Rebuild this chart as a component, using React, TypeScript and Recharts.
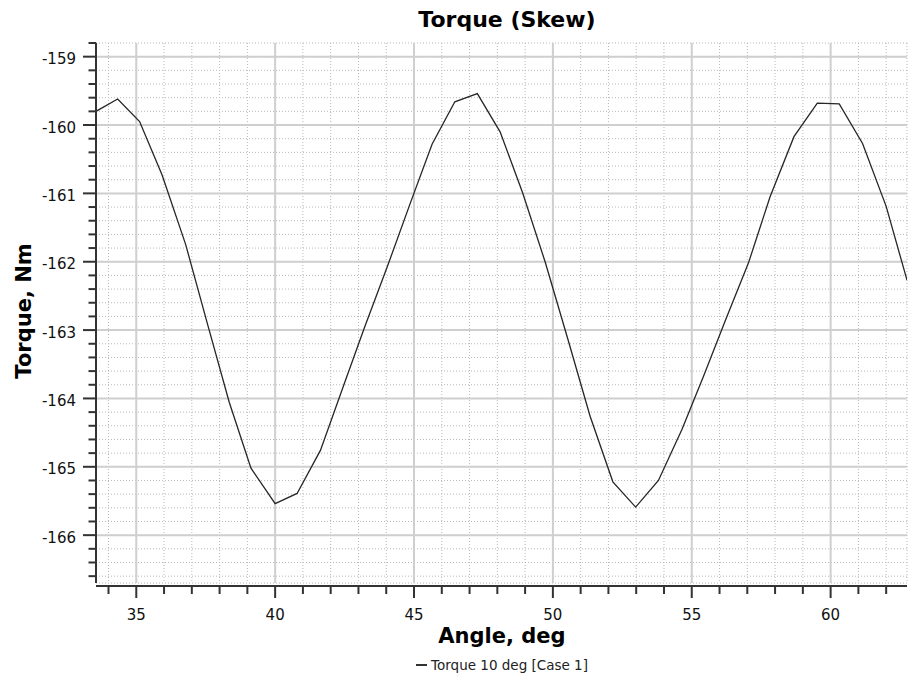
import React from "react";
import {
  LineChart,
  Line,
  XAxis,
  YAxis,
  CartesianGrid,
  ReferenceLine,
} from "recharts";

// values
const angle = [
  33.55, 34.33, 35.12, 35.93, 36.78, 37.57, 38.35, 39.13, 40.0, 40.79, 41.63,
  42.43, 43.21, 44.05, 44.86, 45.65, 46.47, 47.28, 48.1, 48.91, 49.72, 50.53,
  51.34, 52.16, 52.98, 53.8, 54.65, 55.42, 56.22, 57.04, 57.82, 58.68, 59.52,
  60.31, 61.15, 62.0, 62.75,
];
const torque = [
  -159.8, -159.62, -159.95, -160.73, -161.75, -162.92, -164.06, -165.02,
  -165.54, -165.39, -164.76, -163.85, -162.97, -162.06, -161.15, -160.28,
  -159.66, -159.54, -160.1, -160.99, -162.0, -163.12, -164.26, -165.22,
  -165.59, -165.2, -164.45, -163.68, -162.85, -162.02, -161.05, -160.17,
  -159.68, -159.69, -160.27, -161.19, -162.27,
];

const xMajor = [35, 40, 45, 50, 55, 60];
const xMinor = [
  34, 35, 36, 37, 38, 39, 40, 41, 42, 43, 44, 45, 46, 47, 48, 49, 50, 51, 52,
  53, 54, 55, 56, 57, 58, 59, 60, 61, 62,
];
const yMajor = [-166, -165, -164, -163, -162, -161, -160, -159];
const yMinor = [
  -166.6, -166.4, -166.2, -166, -165.8, -165.6, -165.4, -165.2, -165, -164.8,
  -164.6, -164.4, -164.2, -164, -163.8, -163.6, -163.4, -163.2, -163, -162.8,
  -162.6, -162.4, -162.2, -162, -161.8, -161.6, -161.4, -161.2, -161, -160.8,
  -160.6, -160.4, -160.2, -160, -159.8, -159.6, -159.4, -159.2, -159, -158.8,
];

const data = angle.map((a, i) => ({ angle: a, torque: torque[i] }));

const font = "'DejaVu Sans', Verdana, sans-serif";
const axisColor = "#333";

const isMajor = (list: number[], v: number) =>
  list.some((m) => Math.abs(m - v) < 1e-6);

function XTick(props: any) {
  const { x, y, payload } = props;
  const major = isMajor(xMajor, payload.value);
  return (
    <g>
      <line
        x1={x}
        x2={x}
        y1={y + 3}
        y2={y + (major ? 15 : 11)}
        stroke={axisColor}
        strokeWidth={2}
      />
      {major && (
        <text
          x={x}
          y={y + 37}
          textAnchor="middle"
          fontSize={15}
          fontFamily={font}
          fill="#111"
        >
          {payload.value}
        </text>
      )}
    </g>
  );
}

function YTick(props: any) {
  const { x, y, payload } = props;
  const major = isMajor(yMajor, payload.value);
  return (
    <g>
      <line
        x1={x - (major ? 13 : 7.5)}
        x2={x}
        y1={y}
        y2={y}
        stroke={axisColor}
        strokeWidth={2}
      />
      {major && (
        <text
          x={x - 20}
          y={y + 7.5}
          textAnchor="end"
          fontSize={15}
          fontFamily={font}
          fill="#111"
        >
          {Math.round(payload.value)}
        </text>
      )}
    </g>
  );
}

export default function App() {
  return (
    <div
      style={{
        position: "absolute",
        left: 0,
        top: 0,
        width: 908,
        height: 679,
        background: "#fff",
        fontFamily: font,
      }}
    >
      <div
        style={{
          position: "absolute",
          top: 7,
          left: 307,
          width: 400,
          textAlign: "center",
          fontSize: 22,
          lineHeight: "26px",
          fontWeight: "bold",
          color: "#000",
        }}
      >
        Torque (Skew)
      </div>

      <LineChart
        width={908}
        height={679}
        data={data}
        margin={{ top: 43, right: 1, bottom: 0, left: 0 }}
      >
        <CartesianGrid
          stroke="#b8b8b8"
          strokeWidth={1}
          strokeDasharray="1 2"
        />
        {xMajor.map((v) => (
          <ReferenceLine key={"x" + v} x={v} stroke="#cfcfcf" strokeWidth={2} />
        ))}
        {yMajor.map((v) => (
          <ReferenceLine key={"y" + v} y={v} stroke="#cfcfcf" strokeWidth={2} />
        ))}
        <XAxis
          dataKey="angle"
          type="number"
          domain={[33.55, 62.75]}
          allowDataOverflow
          ticks={xMinor}
          interval={0}
          height={96}
          tickSize={0}
          tickMargin={0}
          tickLine={false}
          tick={<XTick />}
          axisLine={{
            stroke: axisColor,
            strokeWidth: 2,
            transform: "translate(0,3)",
          }}
        />
        <YAxis
          type="number"
          domain={[-166.7, -158.8]}
          allowDataOverflow
          ticks={yMinor}
          interval={0}
          width={96}
          tickSize={0}
          tickMargin={0}
          tickLine={false}
          tick={<YTick />}
          axisLine={{ stroke: axisColor, strokeWidth: 2 }}
        />
        <Line
          type="linear"
          dataKey="torque"
          stroke="#262626"
          strokeWidth={1.3}
          dot={false}
          activeDot={false}
          isAnimationActive={false}
        />
      </LineChart>

      <div
        style={{
          position: "absolute",
          left: 24 - 100,
          top: 311 - 13,
          width: 200,
          textAlign: "center",
          fontSize: 21,
          lineHeight: "26px",
          fontWeight: "bold",
          color: "#000",
          transform: "rotate(-90deg)",
        }}
      >
        Torque, Nm
      </div>

      <div
        style={{
          position: "absolute",
          left: 352,
          top: 626,
          width: 300,
          textAlign: "center",
          fontSize: 21,
          lineHeight: "21px",
          fontWeight: "bold",
          color: "#000",
        }}
      >
        Angle, deg
      </div>

      <div
        style={{
          position: "absolute",
          left: 352,
          top: 657,
          width: 300,
          display: "flex",
          justifyContent: "center",
          alignItems: "center",
          fontSize: 13.5,
          lineHeight: "16px",
          color: "#222",
        }}
      >
        <span
          style={{
            display: "inline-block",
            width: 11,
            height: 1.5,
            background: "#333",
            marginRight: 4,
          }}
        />
        <span>Torque 10 deg [Case 1]</span>
      </div>
    </div>
  );
}
